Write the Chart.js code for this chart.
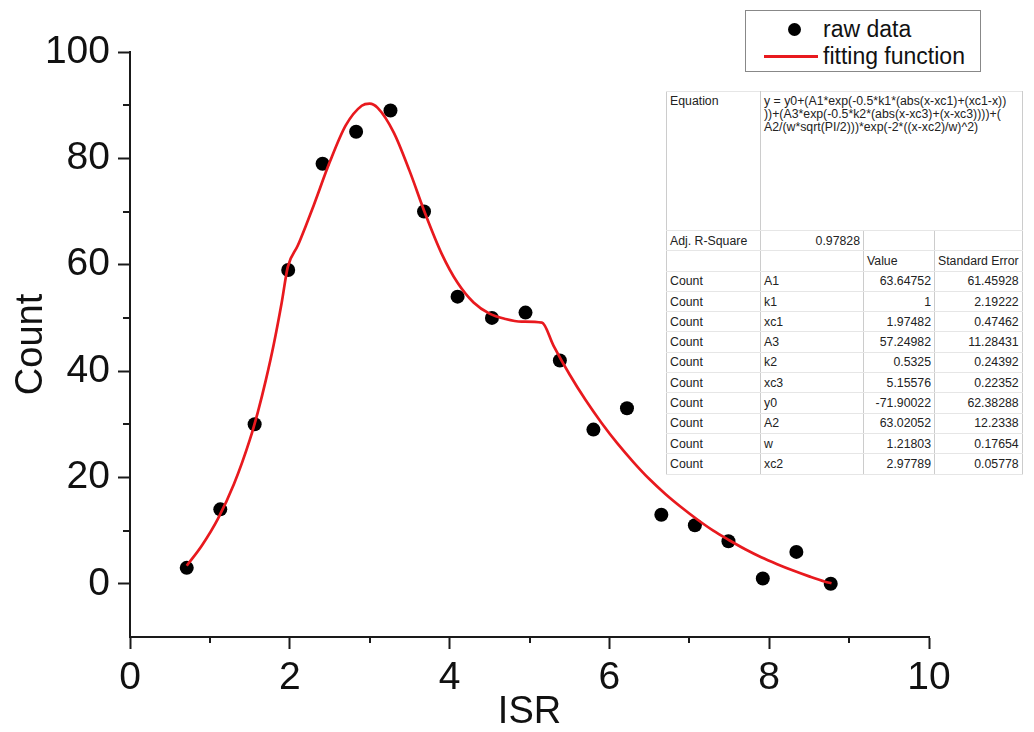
<!DOCTYPE html>
<html>
<head>
<meta charset="utf-8">
<script src="https://cdn.jsdelivr.net/npm/chart.js@4/dist/chart.umd.min.js"></script>
<style>
    html, body { margin: 0; padding: 0; background: #fff; }
    #wrap { position: relative; width: 1034px; height: 732px; }
    #chart { position: absolute; left: 0; top: 0; }
    #legend {
        position: absolute; left: 745px; top: 10px; width: 234px; height: 60px;
        border: 1px solid #888; background: #fff;
        font-family: Arial, "Liberation Sans", sans-serif; font-size: 23px; color: #111;
    }
    #legend .row { position: absolute; left: 0; height: 28px; line-height: 28px; }
    #legend .dot { position: absolute; left: 42px; top: 8px; width: 13px; height: 13px; border-radius: 50%; background: #000; }
    #legend .line { position: absolute; left: 18px; top: 13px; width: 54px; height: 3px; background: #e8191e; }
    #legend .lbl { position: absolute; left: 77px; white-space: nowrap; }
    #params {
        position: absolute; left: 666px; top: 91px;
        border-collapse: collapse; background: #fff;
        font-family: Arial, "Liberation Sans", sans-serif; font-size: 12.3px; color: #222;
        border: 1px solid #999;
    }
    #params td {
        border-left: 1px solid #ccc; border-right: 1px solid #ccc;
        border-top: 1px solid #e6e6e6; border-bottom: 1px solid #e6e6e6;
        padding: 0 3px; height: 19.3px; line-height: 14px; vertical-align: middle;
        white-space: nowrap;
    }
    #params td.r { text-align: right; }
    #params td.eq { vertical-align: top; height: 135px; padding-top: 3px; line-height: 13px; }
</style>
</head>
<body>
<div id="wrap">
    <canvas id="chart" width="1034" height="732"></canvas>
    <div id="legend">
        <div class="row" style="top:4px"><span class="dot"></span><span class="lbl">raw data</span></div>
        <div class="row" style="top:31px"><span class="line"></span><span class="lbl">fitting function</span></div>
    </div>
    <table id="params">
        <colgroup><col style="width:94px"><col style="width:103px"><col style="width:71px"><col style="width:74px"></colgroup>
        <tbody id="params-body"></tbody>
    </table>
</div>
<script>
// measured points
const isr = [0.71, 1.13, 1.56, 1.98, 2.41, 2.83, 3.26, 3.68, 4.10, 4.53,
             4.95, 5.38, 5.80, 6.22, 6.65, 7.07, 7.49, 7.92, 8.34, 8.77];
const counts = [3, 14, 30, 59, 79, 85, 89, 70, 54, 50,
                51, 42, 29, 33, 13, 11, 8, 1, 6, 0];

// fitted curve
const fitX = [0.71, 0.9, 1.1, 1.3, 1.5, 1.6, 1.7, 1.8, 1.9, 1.975, 2.1, 2.2, 2.3, 2.5, 2.7, 2.9, 3.0,
              3.1, 3.3, 3.5, 3.7, 3.9, 4.1, 4.3, 4.5, 4.7, 4.9, 5.156, 5.3, 5.5, 5.7, 5.9,
              6.1, 6.3, 6.5, 6.7, 6.9, 7.1, 7.3, 7.5, 7.7, 7.9, 8.1, 8.3, 8.5, 8.7, 8.78];
const fitY = [3.4, 7.2, 12.2, 18.7, 27.1, 32.3, 38.3, 45.1, 53.0, 59.6, 63.6, 67.3, 71.2, 79.3, 86.2, 89.9, 90.3,
              89.5, 84.9, 77.6, 69.4, 62.1, 56.6, 52.9, 50.8, 49.8, 49.3, 49.1, 44.8, 39.4, 34.6, 30.3,
              26.4, 22.9, 19.7, 16.9, 14.4, 12.1, 10.0, 8.2, 6.5, 5.0, 3.7, 2.5, 1.4, 0.4, 0.1];

const xTicks = [0, 2, 4, 6, 8, 10];
const xMinor = [1, 3, 5, 7, 9];
const yTicks = [0, 20, 40, 60, 80, 100];
const yMinor = [10, 30, 50, 70, 90];

// fit report
const equationLines = [
    'y = y0+(A1*exp(-0.5*k1*(abs(x-xc1)+(xc1-x))',
    '))+(A3*exp(-0.5*k2*(abs(x-xc3)+(x-xc3))))+(',
    'A2/(w*sqrt(PI/2)))*exp(-2*((x-xc2)/w)^2)',
];
const adjR2 = '0.97828';
const paramNames = ['A1', 'k1', 'xc1', 'A3', 'k2', 'xc3', 'y0', 'A2', 'w', 'xc2'];
const paramValues = ['63.64752', '1', '1.97482', '57.24982', '0.5325', '5.15576', '-71.90022', '63.02052', '1.21803', '2.97789'];
const paramErrors = ['61.45928', '2.19222', '0.47462', '11.28431', '0.24392', '0.22352', '62.38288', '12.2338', '0.17654', '0.05778'];

function fillTable() {
    const body = document.getElementById('params-body');
    let html = '<tr><td class="eq">Equation</td><td class="eq" colspan="3">' + equationLines.join('<br>') + '</td></tr>';
    html += '<tr><td>Adj. R-Square</td><td class="r">' + adjR2 + '</td><td></td><td></td></tr>';
    html += '<tr><td></td><td></td><td>Value</td><td>Standard Error</td></tr>';
    paramNames.forEach((p, i) => {
        html += '<tr><td>Count</td><td>' + p + '</td><td class="r">' + paramValues[i] + '</td><td class="r">' + paramErrors[i] + '</td></tr>';
    });
    body.innerHTML = html;
}
fillTable();

const AXIS = '#1a1a1a';
const FONT = 'Arial, "Liberation Sans", sans-serif';

// short minor ticks between the labelled ones
const minorTicks = {
    id: 'minorTicks',
    afterDraw(chart) {
        const { ctx, scales: { x, y } } = chart;
        ctx.save();
        ctx.strokeStyle = AXIS;
        ctx.lineWidth = 2;
        ctx.beginPath();
        xMinor.forEach(v => {
            const px = Math.round(x.getPixelForValue(v));
            ctx.moveTo(px, x.top);
            ctx.lineTo(px, x.top + 6);
        });
        yMinor.forEach(v => {
            const py = Math.round(y.getPixelForValue(v));
            ctx.moveTo(y.right, py);
            ctx.lineTo(y.right - 7, py);
        });
        ctx.stroke();
        ctx.restore();
    }
};

new Chart(document.getElementById('chart'), {
    type: 'scatter',
    data: {
        datasets: [
            {
                label: 'fitting function',
                data: fitX.map((v, i) => ({ x: v, y: fitY[i] })),
                showLine: true,
                borderColor: '#e8191e',
                borderWidth: 2.7,
                pointRadius: 0,
                cubicInterpolationMode: 'monotone',
            },
            {
                label: 'raw data',
                data: isr.map((v, i) => ({ x: v, y: counts[i] })),
                showLine: false,
                pointRadius: 7,
                backgroundColor: '#000',
                borderColor: '#000',
                borderWidth: 0,
            },
        ],
    },
    options: {
        responsive: false,
        animation: false,
        layout: { padding: { top: 52, right: 105, left: 0, bottom: 0 } },
        plugins: {
            legend: { display: false },
            tooltip: { enabled: false },
        },
        scales: {
            x: {
                type: 'linear',
                min: 0,
                max: 10,
                afterBuildTicks: s => { s.ticks = xTicks.map(v => ({ value: v })); },
                afterFit: s => { s.height = 95; },
                border: { display: true, color: AXIS, width: 2 },
                grid: { drawOnChartArea: false, drawTicks: true, tickLength: 12, tickColor: AXIS, tickWidth: 2 },
                ticks: { color: '#111', font: { family: FONT, size: 39 }, padding: 6, maxRotation: 0 },
                title: { display: true, text: 'ISR', color: '#111', font: { family: FONT, size: 38, lineHeight: 1.0 }, padding: { top: 0, bottom: 0 } },
            },
            y: {
                type: 'linear',
                min: -10,
                max: 100,
                afterBuildTicks: s => { s.ticks = yTicks.map(v => ({ value: v })); },
                afterFit: s => { s.width = 130; },
                border: { display: true, color: AXIS, width: 2 },
                grid: { drawOnChartArea: false, drawTicks: true, tickLength: 12, tickColor: AXIS, tickWidth: 2 },
                ticks: { color: '#111', font: { family: FONT, size: 39 }, padding: 8 },
                title: { display: true, text: 'Count', color: '#111', font: { family: FONT, size: 38 }, padding: { top: 9, bottom: 0 } },
            },
        },
    },
    plugins: [minorTicks],
});
</script>
</body>
</html>
